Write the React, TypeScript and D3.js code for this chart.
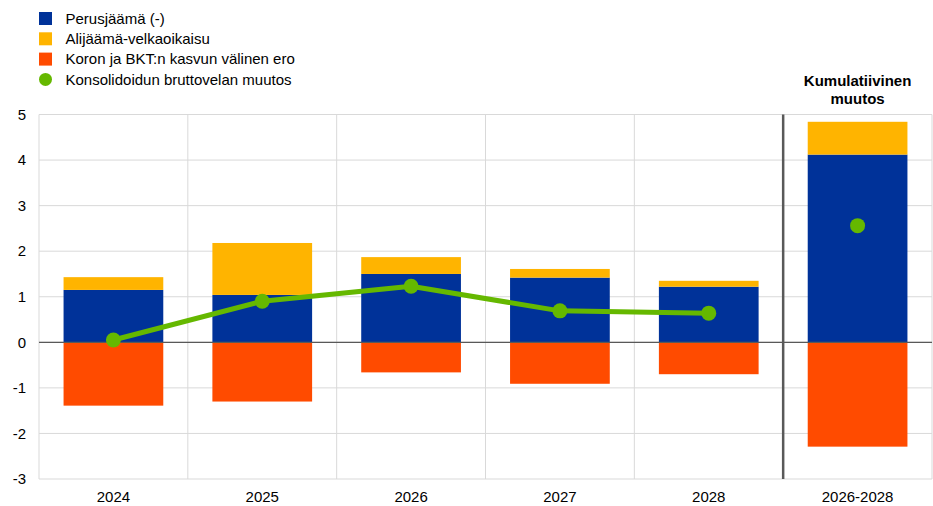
import React from 'react';
import * as d3 from "d3";

const categories = ["2024", "2025", "2026", "2027", "2028", "2026-2028"];
const primaryBalance = [1.15, 1.04, 1.5, 1.42, 1.22, 4.12];
const deficitDebt = [0.28, 1.14, 0.37, 0.19, 0.13, 0.72];
const interestGrowth = [-1.39, -1.3, -0.66, -0.91, -0.7, -2.29];
const debtChange = [0.05, 0.9, 1.23, 0.69, 0.64, 2.56];
const yTicks = [-3, -2, -1, 0, 1, 2, 3, 4, 5];

const legendItems = [
  { label: "Perusjäämä (-)", color: "#003299", shape: "rect" },
  { label: "Alijäämä-velkaoikaisu", color: "#FFB400", shape: "rect" },
  { label: "Koron ja BKT:n kasvun välinen ero", color: "#FF4B00", shape: "rect" },
  { label: "Konsolidoidun bruttovelan muutos", color: "#65B800", shape: "circle" },
];

const W = 933, H = 506;
const margin = { top: 114.5, right: 1, bottom: 27, left: 39 };

const App = () => {
  const x = d3.scaleBand().domain(categories).range([margin.left, W - margin.right]).padding(0);
  const y = d3.scaleLinear().domain([-3, 5]).range([H - margin.bottom, margin.top]);
  const bw = x.bandwidth() * 0.67;
  const cx = (c) => x(c) + x.bandwidth() / 2;

  const line = d3.line().x((d) => cx(d[0])).y((d) => y(d[1]));
  const lineData = categories.slice(0, 5).map((c, i) => [c, debtChange[i]]);

  const font = "Arial, 'Liberation Sans', sans-serif";
  const fs = 15;

  return (
    <svg width={W} height={H} style={{ position: "absolute", left: 0, top: 0 }} fontFamily={font}>
      <rect width={W} height={H} fill="white" />
      {/* legend */}
      {legendItems.map((d, i) => (
        <g key={d.label} transform={`translate(39 ${18.5 + i * 20.3})`}>
          {d.shape === "rect"
            ? <rect x={0} y={-6.5} width={13} height={13} fill={d.color} />
            : <circle cx={6.5} cy={0} r={6.5} fill={d.color} />}
          <text x={26.5} y={5.3} fontSize={fs} fill="#000">{d.label}</text>
        </g>
      ))}
      {/* grid */}
      {yTicks.map((t) => (
        <line key={t} x1={margin.left} x2={W - margin.right} y1={y(t)} y2={y(t)} stroke="#d9d9d9" strokeWidth={1} />
      ))}
      {categories.map((c) => (
        <line key={c} x1={x(c)} x2={x(c)} y1={y(5)} y2={y(-3)} stroke="#d9d9d9" strokeWidth={1} />
      ))}
      <line x1={W - margin.right} x2={W - margin.right} y1={y(5)} y2={y(-3)} stroke="#d9d9d9" />
      {/* bars */}
      {categories.map((c, i) => (
        <g key={c}>
          <rect x={cx(c) - bw / 2} width={bw} y={y(primaryBalance[i])} height={y(0) - y(primaryBalance[i])} fill="#003299" />
          <rect x={cx(c) - bw / 2} width={bw} y={y(primaryBalance[i] + deficitDebt[i])} height={y(primaryBalance[i]) - y(primaryBalance[i] + deficitDebt[i])} fill="#FFB400" />
          <rect x={cx(c) - bw / 2} width={bw} y={y(0)} height={y(interestGrowth[i]) - y(0)} fill="#FF4B00" />
        </g>
      ))}
      {/* zero line */}
      <line x1={margin.left} x2={W - margin.right} y1={y(0)} y2={y(0)} stroke="#595959" strokeWidth={1.2} />
      {/* separator */}
      <line x1={x("2026-2028")} x2={x("2026-2028")} y1={y(5)} y2={y(-3)} stroke="#595959" strokeWidth={2.5} />
      {/* line + dots */}
      <path d={line(lineData)} fill="none" stroke="#65B800" strokeWidth={5} strokeLinejoin="round" />
      {categories.map((c, i) => (
        <circle key={c} cx={cx(c)} cy={y(debtChange[i])} r={7.5} fill="#65B800" />
      ))}
      {/* y axis labels */}
      {yTicks.map((t) => (
        <text key={t} x={26} y={y(t) + 5.3} textAnchor="end" fontSize={fs} fill="#000">{t}</text>
      ))}
      {/* x axis labels */}
      {categories.map((c) => (
        <text key={c} x={cx(c)} y={502} textAnchor="middle" fontSize={fs} fill="#000">{c}</text>
      ))}
      {/* cumulative heading */}
      <text x={cx("2026-2028")} y={86} textAnchor="middle" fontSize={fs} fontWeight="bold" fill="#000">Kumulatiivinen</text>
      <text x={cx("2026-2028")} y={103.5} textAnchor="middle" fontSize={fs} fontWeight="bold" fill="#000">muutos</text>
    </svg>
  );
};

export default App;
